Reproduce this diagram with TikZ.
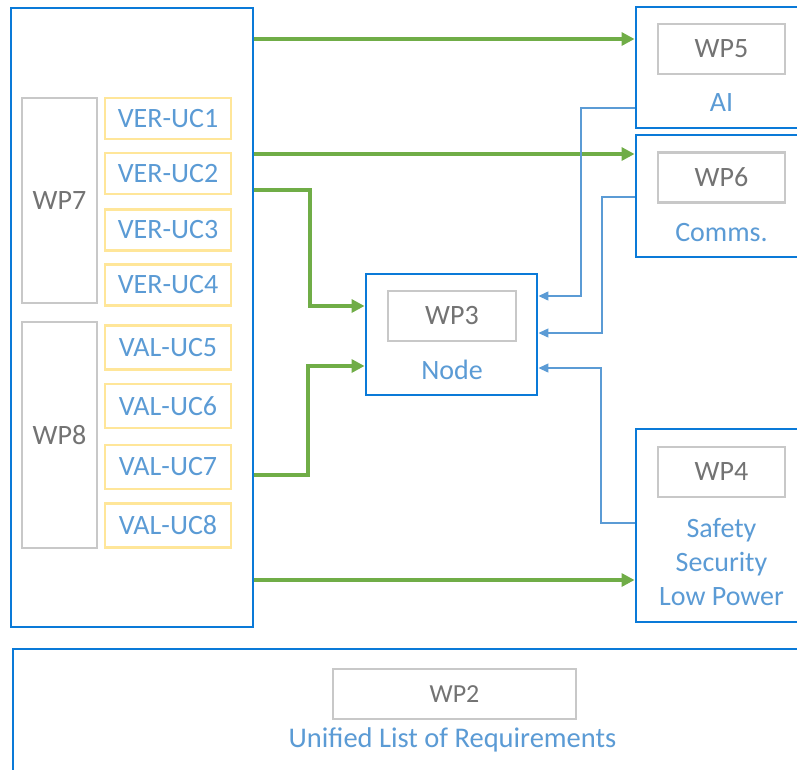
\documentclass[tikz,border=0pt]{standalone}
\usepackage{fontspec}
\setmainfont{Carlito}
\usetikzlibrary{arrows.meta}
\definecolor{boxblue}{HTML}{0A7AD8}
\definecolor{txtblue}{HTML}{5B9BD5}
\definecolor{wpgray}{HTML}{C8C8C8}
\definecolor{wptext}{HTML}{737373}
\definecolor{ucyellow}{HTML}{FFE699}
\definecolor{arrgreen}{HTML}{70AD47}
\tikzset{
  bluebox/.style={draw=boxblue, line width=2.9pt, fill=white, inner sep=0pt},
  graybox/.style={draw=wpgray, line width=2.8pt, fill=white, inner sep=0pt, text=wptext, font=\fontsize{28}{34}\selectfont},
  ucbox/.style={draw=ucyellow, line width=2.4pt, fill=white, inner sep=0pt, minimum width=126pt, text=txtblue, font=\fontsize{28}{34}\selectfont},
  lbl/.style={text=txtblue, font=\fontsize{28}{34}\selectfont, inner sep=0pt, align=center},
  garrow/.style={draw=arrgreen, line width=3.2pt, -{Triangle[length=13pt,width=13pt]}},
  barrow/.style={draw=txtblue, line width=1.3pt, -{Triangle[length=10pt,width=9pt]}},
}
\begin{document}
\begin{tikzpicture}[x=1pt,y=-1pt]
\useasboundingbox (0,0) rectangle (797,769);
\clip (0,0) rectangle (797,769);
% left big box
\node[bluebox, minimum width=242pt, minimum height=619pt] (big) at (132,317.5) {};
\node[graybox, minimum width=75pt, minimum height=205pt] (wp7) at (59.5,200.5) {WP7};
\node[graybox, minimum width=75pt, minimum height=226pt] (wp8) at (59.5,435) {WP8};
\node[ucbox, minimum height=41pt] (uc1) at (168,118.5) {VER-UC1};
\node[ucbox, minimum height=41pt] (uc2) at (168,173.5) {VER-UC2};
\node[ucbox, minimum height=41pt] (uc3) at (168,230) {VER-UC3};
\node[ucbox, minimum height=41pt] (uc4) at (168,285) {VER-UC4};
\node[ucbox, minimum height=44pt] (uc5) at (168,347.5) {VAL-UC5};
\node[ucbox, minimum height=44pt] (uc6) at (168,406) {VAL-UC6};
\node[ucbox, minimum height=44pt] (uc7) at (168,467) {VAL-UC7};
\node[ucbox, minimum height=44pt] (uc8) at (168,525.5) {VAL-UC8};
% WP5
\node[bluebox, minimum width=184pt, minimum height=121pt] (wp5box) at (728,67.5) {};
\node[graybox, minimum width=127pt, minimum height=50pt] (wp5) at (721.5,49) {WP5};
\node[lbl] (ai) at (721.5,103) {AI};
% WP6
\node[bluebox, minimum width=184pt, minimum height=122pt] (wp6box) at (728,196) {};
\node[graybox, minimum width=127pt, minimum height=50pt] (wp6) at (721.5,177.5) {WP6};
\node[lbl] (comms) at (721.5,233) {Comms.};
% WP4
\node[bluebox, minimum width=184pt, minimum height=193pt] (wp4box) at (728,525.5) {};
\node[graybox, minimum width=127pt, minimum height=50pt] (wp4) at (721.5,472) {WP4};
\node[lbl] (ssl) at (721.5,562) {Safety\\Security\\Low Power};
% WP3
\node[bluebox, minimum width=171pt, minimum height=121pt] (wp3box) at (451.5,334.5) {};
\node[graybox, minimum width=128pt, minimum height=50pt] (wp3) at (452,316) {WP3};
\node[lbl] (node) at (452,370) {Node};
% WP2
\node[bluebox, minimum width=820pt, minimum height=160pt] (wp2box) at (423,729) {};
\node[graybox, minimum width=243pt, minimum height=50pt, font=\fontsize{26}{32}\selectfont] (wp2) at (454.5,694) {WP2};
\node[lbl, font=\fontsize{28.5}{34}\selectfont] (ulr) at (452.5,740) {Unified List of Requirements};
% green arrows
\draw[garrow] (big.east |- 0,39) -- (wp5box.west |- 0,39);
\draw[garrow] (big.east |- 0,154) -- (wp6box.west |- 0,154);
\draw[garrow] (big.east |- 0,190) -- (310,190) |- (wp3box.west |- 0,306);
\draw[garrow] (big.east |- 0,475) -- (308,475) |- (wp3box.west |- 0,366);
\draw[garrow] (big.east |- 0,580) -- (wp4box.west |- 0,580);
% blue arrows
\draw[barrow] (wp5box.west |- 0,108) -- (581,108) |- (wp3box.east |- 0,296);
\draw[barrow] (wp6box.west |- 0,197) -- (602,197) |- (wp3box.east |- 0,333);
\draw[barrow] (wp4box.west |- 0,523) -- (601,523) |- (wp3box.east |- 0,368);
\end{tikzpicture}
\end{document}
